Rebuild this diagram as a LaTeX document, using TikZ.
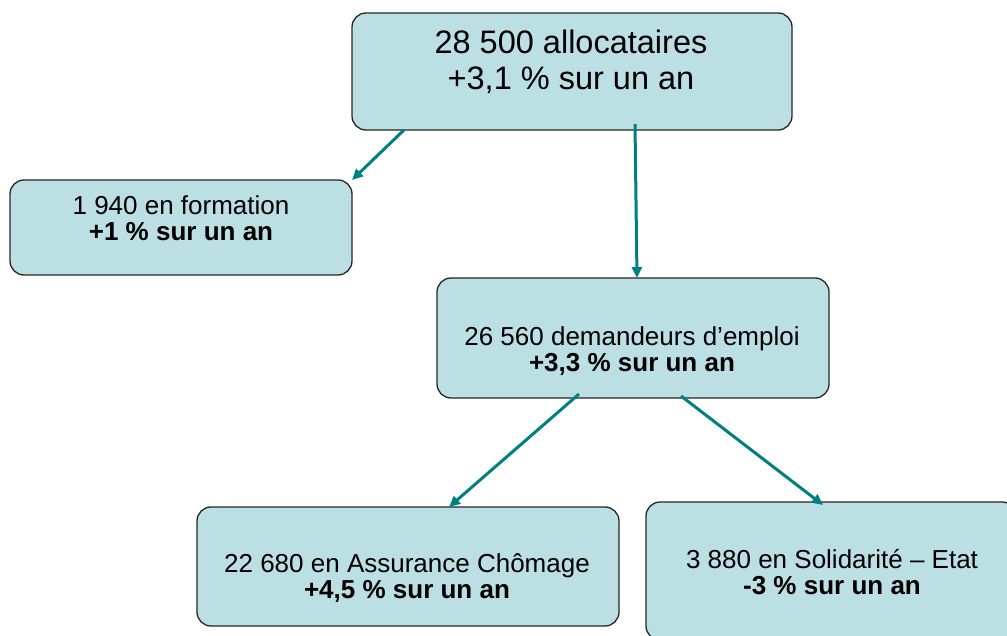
\documentclass[tikz,border=0pt]{standalone}
\usepackage{fontspec}
\setmainfont{Liberation Sans}
\usetikzlibrary{arrows.meta}
\definecolor{boxfill}{RGB}{188,223,228}
\definecolor{arrowteal}{RGB}{0,128,128}
\begin{document}
\begin{tikzpicture}[x=1pt,y=-1pt,
  box/.style={draw=black!85, line width=1.3pt, fill=boxfill, rounded corners=14pt, inner sep=0pt, outer sep=0pt},
  txt/.style={align=center, inner sep=0pt, font=\fontsize{26}{26}\selectfont},
  bigtxt/.style={align=center, inner sep=0pt, font=\fontsize{32.5}{36}\selectfont},
  arr/.style={draw=arrowteal, line width=3pt, -{Triangle[length=11pt,width=10pt]}}]
\useasboundingbox (0,0) rectangle (1007,636);
\clip (0,0) rectangle (1007,636);
\fill[white] (0,0) rectangle (1007,636);
% boxes
\node[box, minimum width=440pt, minimum height=117pt] (top) at (572,71.5) {};
\node[box, minimum width=342pt, minimum height=95pt] (form) at (181,227.5) {};
\node[box, minimum width=392pt, minimum height=120pt] (dem) at (633,338) {};
\node[box, minimum width=422pt, minimum height=119pt] (ass) at (408,566.5) {};
\node[box, minimum width=370pt, minimum height=138pt] (sol) at (831,571) {};
% texts
\node[bigtxt] (topt) at (571,62) {28 500 allocataires\\+3,1 \% sur un an};
\node[txt] (formt) at (181,218) {1 940 en formation\\\textbf{+1 \% sur un an}};
\node[txt] (demt) at (632,351) {26 560 demandeurs d’emploi\\\textbf{+3,3 \% sur un an}};
\node[txt] (asst) at (407,578) {22 680 en Assurance Chômage\\\textbf{+4,5 \% sur un an}};
\node[txt] (solt) at (832,572) {3 880 en Solidarité – Etat\\\textbf{-3 \% sur un an}};
% arrows
\draw[arr] ([xshift=52pt]top.south west) -- (form.north east);
\draw[arr] ([xshift=283pt,yshift=6pt]top.south west) -- ([xshift=200pt]dem.north west);
\draw[arr] ([xshift=142pt,yshift=4pt]dem.south west) -- ([xshift=252pt]ass.north west);
\draw[arr] ([xshift=244pt,yshift=2pt]dem.south west) -- ([xshift=177pt,yshift=-3pt]sol.north west);
\end{tikzpicture}
\end{document}
